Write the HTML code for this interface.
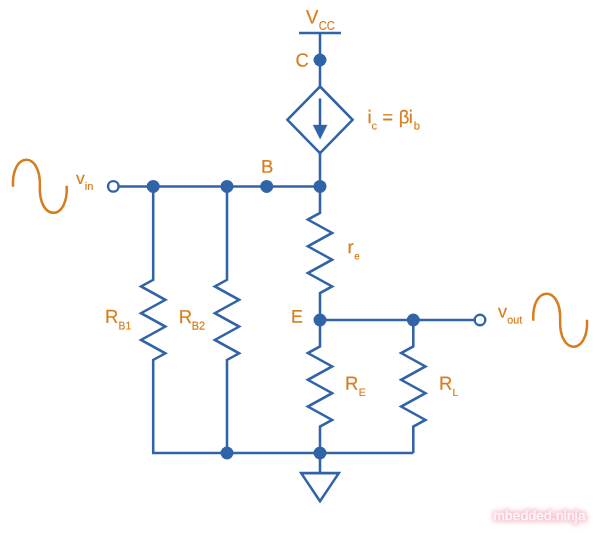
<!DOCTYPE html>
<html><head><meta charset="utf-8"><title>Common collector small-signal model</title>
<style>
html,body{margin:0;padding:0;background:#fff;}
body{width:600px;height:533px;overflow:hidden;}
svg{display:block;}
.soft{filter:blur(0.4px);}
text{font-family:"Liberation Sans",Arial,sans-serif;fill:#d77d1d;stroke:#d77d1d;stroke-width:0.18px;stroke-linejoin:round;}
.w *{fill:none;stroke:#3163a8;stroke-width:2.55;stroke-linejoin:miter;stroke-linecap:butt;}
.d circle{fill:#3163a8;}
.t circle{fill:#fff;stroke:#3163a8;stroke-width:2.4;}
.s path{fill:none;stroke:#d77d1d;stroke-width:2.5;stroke-linecap:butt;}
</style></head>
<body>
<svg width="600" height="533" viewBox="0 0 600 533">
<rect width="600" height="533" fill="#fff"/>
<g class="soft">
<g class="w">
<polyline points="299.00,33.00 341.00,33.00"/>
<polyline points="320.00,33.00 320.00,86.50"/>
<polygon points="320,86.5 352.6,119.8 320,153.1 287.4,119.8"/>
<polyline points="320.00,98.50 320.00,128.00"/>
<polyline points="118.80,186.40 320.00,186.40"/>
<polyline points="320.00,153.10 320.00,212.90 307.85,219.58 332.15,232.94 307.85,246.30 332.15,259.66 307.85,273.02 332.15,286.38 320.00,293.06 320.00,320.00"/>
<polyline points="320.00,320.00 320.00,346.40 307.85,353.08 332.15,366.44 307.85,379.80 332.15,393.16 307.85,406.52 332.15,419.88 320.00,426.56 320.00,473.00"/>
<polyline points="153.20,186.40 153.20,279.80 141.05,286.48 165.35,299.84 141.05,313.20 165.35,326.56 141.05,339.92 165.35,353.28 153.20,359.96 153.20,453.00 413.30,453.00"/>
<polyline points="227.00,186.40 227.00,279.80 214.85,286.48 239.15,299.84 214.85,313.20 239.15,326.56 214.85,339.92 239.15,353.28 227.00,359.96 227.00,453.00"/>
<polyline points="320.00,320.00 474.50,320.00"/>
<polyline points="413.30,320.00 413.30,346.40 401.15,353.08 425.45,366.44 401.15,379.80 425.45,393.16 401.15,406.52 425.45,419.88 413.30,426.56 413.30,453.00"/>
<polygon points="301.2,473.1 338.8,473.1 320,501.1"/>
</g>
<polygon points="313,125 327.2,125 320.1,139.3" fill="#3163a8" stroke="#3163a8" stroke-width="0.3" stroke-linejoin="round"/>
<g class="d">
<circle cx="320" cy="60" r="6.5"/>
<circle cx="320" cy="186.4" r="6.5"/>
<circle cx="266.7" cy="186.4" r="6.5"/>
<circle cx="227" cy="186.4" r="6.5"/>
<circle cx="153.2" cy="186.4" r="6.5"/>
<circle cx="320" cy="320" r="6.5"/>
<circle cx="413.3" cy="320" r="6.5"/>
<circle cx="227" cy="453" r="6.5"/>
<circle cx="320" cy="453" r="6.5"/>
</g>
<g class="t">
<circle cx="113.3" cy="186.4" r="5.25"/>
<circle cx="480" cy="320" r="5.3"/>
</g>
<g class="s">
<path d="M13,186.8 C11.12,150.83 41.19,150.83 39.85,186.3 C38.51,221.77 68.58,221.77 66.7,185.8"/>
<path d="M533.3,320.7 C531.42,284.73 561.49,284.73 560.15,320.2 C558.81,355.67 588.88,355.67 587.0,319.7"/>
</g>
<text transform="translate(306.00,23.50) rotate(0.03) scale(1,1.05)" font-size="18.5">V</text><text transform="translate(318.64,29.70) rotate(0.03) scale(1,1.12)" font-size="11.2">CC</text>
<text transform="translate(295.40,66.50) rotate(0.03) scale(1,1.03)" font-size="18.5">C</text>
<text transform="translate(367.50,123.30) rotate(0.03) scale(1,1.0)" font-size="18.5">i</text><text transform="translate(371.61,129.60) rotate(0.03) scale(1,1.0)" font-size="11.2">c</text><text transform="translate(382.35,123.30) rotate(0.03) scale(1,1.0)" font-size="18.5">=</text><text transform="translate(398.69,123.30) rotate(0.03) scale(1,1.0)" font-size="18.5">β</text><text transform="translate(408.73,123.30) rotate(0.03) scale(1,1.0)" font-size="18.5">i</text><text transform="translate(413.84,129.60) rotate(0.03) scale(1,1.0)" font-size="11.2">b</text>
<text transform="translate(260.90,172.70) rotate(0.03) scale(1,1.0)" font-size="18.5">B</text>
<text transform="translate(75.90,183.90) rotate(0.03) scale(1,1.0)" font-size="17.5">v</text><text transform="translate(84.75,189.95) rotate(0.03) scale(1,1.0)" font-size="11.2">in</text>
<text transform="translate(347.50,253.15) rotate(0.03) scale(1,1.0)" font-size="18.5">r</text><text transform="translate(354.16,259.35) rotate(0.03) scale(1,1.0)" font-size="9.6">e</text>
<text transform="translate(291.10,322.70) rotate(0.03) scale(1,1.04)" font-size="17.8">E</text>
<text transform="translate(104.90,323.05) rotate(0.03) scale(1,1.03)" font-size="18.5">R</text><text transform="translate(118.56,329.45) rotate(0.03) scale(1,1.1)" font-size="10.3">B1</text>
<text transform="translate(178.80,323.30) rotate(0.03) scale(1,1.03)" font-size="18.5">R</text><text transform="translate(191.86,329.70) rotate(0.03) scale(1,1.1)" font-size="10.9">B2</text>
<text transform="translate(345.10,389.85) rotate(0.03) scale(1,1.03)" font-size="18.5">R</text><text transform="translate(358.76,395.95) rotate(0.03) scale(1,1.03)" font-size="10.6">E</text>
<text transform="translate(439.00,389.70) rotate(0.03) scale(1,1.03)" font-size="18.5">R</text><text transform="translate(452.46,395.90) rotate(0.03) scale(1,1.03)" font-size="10.3">L</text>
<text transform="translate(498.00,317.45) rotate(0.03) scale(1,1.0)" font-size="18.1">v</text><text transform="translate(507.15,323.45) rotate(0.03) scale(1,1.0)" font-size="10.8">out</text>
</g>
<defs><filter id="g" x="-20%" y="-80%" width="140%" height="260%">
<feMorphology in="SourceAlpha" operator="dilate" radius="1.6" result="fat"/>
<feGaussianBlur in="fat" stdDeviation="1.9" result="blur"/>
<feFlood flood-color="#f6c0cc" flood-opacity="0.88" result="col"/>
<feComposite in="col" in2="blur" operator="in" result="glow"/>
<feGaussianBlur in="SourceGraphic" stdDeviation="0.35" result="txt"/>
<feMerge><feMergeNode in="glow"/><feMergeNode in="txt"/></feMerge>
</filter></defs>
<text x="493.5" y="519.8" style="font-size:13.6px;letter-spacing:0.24px;fill:#fff8f9;stroke:#fff8f9;stroke-width:0.3px" filter="url(#g)">mbedded.ninja</text>
</svg>
</body></html>
